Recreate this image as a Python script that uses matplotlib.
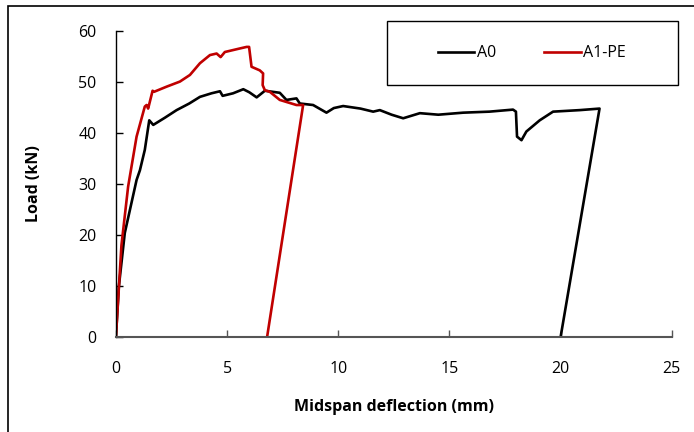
import matplotlib.pyplot as plt
from matplotlib.patches import Rectangle

plt.rcParams['font.family'] = ['Open Sans', 'DejaVu Sans']

# Load-deflection curves read from the test records
a0_defl = [0.0, 0.13, 0.4, 0.93, 1.08, 1.3, 1.5, 1.68, 2.2, 2.73, 3.3, 3.78, 4.3, 4.68, 4.8,
           5.27, 5.73, 6.0, 6.33, 6.7, 7.37, 7.67, 8.12, 8.27, 8.87, 9.47, 9.8, 10.22, 11.0,
           11.57, 11.87, 12.4, 12.92, 13.67, 14.5, 15.62, 16.8, 17.86, 17.99, 18.04, 18.24,
           18.46, 19.06, 19.66, 20.86, 21.75, 20.0]
a0_load = [0.0, 9.8, 20.4, 30.8, 32.7, 36.7, 42.5, 41.6, 43.0, 44.5, 45.8, 47.1, 47.8, 48.2, 47.3,
           47.8, 48.6, 48.0, 47.0, 48.3, 47.9, 46.5, 46.8, 45.8, 45.5, 44.0, 44.9, 45.3, 44.8,
           44.2, 44.5, 43.6, 42.9, 43.9, 43.6, 44.0, 44.2, 44.6, 44.2, 39.3, 38.6,
           40.3, 42.5, 44.2, 44.5, 44.8, 0.0]

a1_defl = [0.0, 0.25, 0.55, 0.93, 1.3, 1.38, 1.45, 1.65, 1.72, 2.28, 2.88, 3.33, 3.78, 4.23,
           4.53, 4.71, 4.9, 5.58, 5.88, 5.99, 6.1, 6.47, 6.62, 6.6, 6.7, 6.92, 7.37, 7.67,
           8.12, 8.42, 6.8]
a1_load = [0.0, 18.0, 29.5, 39.3, 45.2, 45.5, 44.8, 48.3, 48.1, 49.1, 50.1, 51.4, 53.7, 55.3,
           55.6, 54.9, 55.9, 56.6, 56.9, 56.9, 53.0, 52.3, 51.7, 49.4, 48.4, 48.1, 46.5, 46.1,
           45.5, 45.5, 0.0]

x_ticks = [0, 5, 10, 15, 20, 25]
y_ticks = [0, 10, 20, 30, 40, 50, 60]

fig = plt.figure(figsize=(6.94, 4.32), dpi=100)
ax = fig.add_axes([0.167, 0.22, 0.801, 0.708])

ax.plot(a0_defl, a0_load, color='black', lw=1.9, label='A0')
ax.plot(a1_defl, a1_load, color='#c00000', lw=1.9, label='A1-PE')

ax.set_xlim(0, 25)
ax.set_ylim(0, 60)
ax.set_xticks(x_ticks)
ax.set_yticks(y_ticks)
ax.tick_params(axis='both', direction='in', length=5, width=1, labelsize=11.5)
ax.tick_params(axis='x', pad=17, colors='#555555', labelcolor='black')
ax.tick_params(axis='y', pad=14, colors='black')

for side in ['top', 'right']:
    ax.spines[side].set_visible(False)
ax.spines['bottom'].set_color('#555555')
ax.spines['bottom'].set_linewidth(1.5)
ax.spines['left'].set_linewidth(1.0)

ax.set_xlabel('Midspan deflection (mm)', fontsize=11.5, fontweight='bold', labelpad=16)
ax.set_ylabel('Load (kN)', fontsize=11.5, fontweight='bold', labelpad=26)

# legend entries without a frame, boxed by a separate rectangle
leg = ax.legend(loc='center', ncol=2, bbox_to_anchor=(0.748, 0.928),
                fontsize=11.5, frameon=False, handlelength=2.3,
                handletextpad=0.15, columnspacing=3.0, borderaxespad=0)
ax.add_patch(Rectangle((0.487, 0.824), 0.524, 0.209, transform=ax.transAxes,
                       fill=False, edgecolor='black', lw=1.0, clip_on=False))

# chart-area border (left and top edges fall inside the image)
fig.patches.append(Rectangle((8 / 694, -0.2), 1.5, 1.2 - 6 / 432,
                             transform=fig.transFigure, fill=False,
                             edgecolor='black', lw=1.2))

fig.savefig('out.png', dpi=100)
